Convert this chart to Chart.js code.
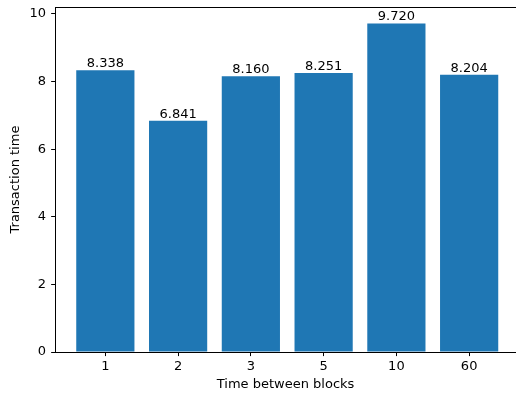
<!DOCTYPE html>
<html>
<head>
<meta charset="utf-8">
<script src="https://cdn.jsdelivr.net/npm/chart.js@4.4.0/dist/chart.umd.min.js"></script>
<style>
  html, body { margin: 0; padding: 0; background: #fff; overflow: hidden; }
  #wrap { position: relative; width: 516px; height: 394px; }
</style>
</head>
<body>
<div id="wrap"><canvas id="chart"></canvas></div>
<script>
// Chart data
const categories = ['1', '2', '3', '5', '10', '60'];
const txTimes = [8.338, 6.841, 8.160, 8.251, 9.720, 8.204];
const yTicks = [0, 2, 4, 6, 8, 10];

const FONT = "'DejaVu Sans', sans-serif";
Chart.defaults.font.family = FONT;
Chart.defaults.font.size = 13;
Chart.defaults.color = '#000';

// Draw value labels above each bar
const barLabels = {
    id: 'barLabels',
    afterDatasetsDraw(chart) {
        const ctx = chart.ctx;
        const meta = chart.getDatasetMeta(0);
        ctx.save();
        ctx.font = '13px ' + FONT;
        ctx.fillStyle = '#000';
        ctx.textAlign = 'center';
        ctx.textBaseline = 'alphabetic';
        meta.data.forEach((bar, i) => {
            ctx.fillText(txTimes[i].toFixed(3), bar.x, bar.y - 3);
        });
        ctx.restore();
    }
};

// Top spine (the right one falls outside the cropped figure)
const frame = {
    id: 'frame',
    afterDraw(chart) {
        const a = chart.chartArea;
        const ctx = chart.ctx;
        ctx.save();
        ctx.strokeStyle = '#000';
        ctx.lineWidth = 1;
        ctx.beginPath();
        ctx.moveTo(a.left, a.top + 0.5);
        ctx.lineTo(a.right, a.top + 0.5);
        ctx.stroke();
        ctx.restore();
    }
};

new Chart(document.getElementById('chart'), {
    type: 'bar',
    data: {
        datasets: [{
            data: txTimes.map((v, i) => ({ x: i, y: v })),
            backgroundColor: '#1f77b4',
            borderWidth: 0,
            barPercentage: 0.8,
            categoryPercentage: 1.0
        }]
    },
    options: {
        responsive: true,
        maintainAspectRatio: false,
        animation: false,
        layout: { padding: { top: 7, right: 0, left: 8, bottom: 0 } },
        plugins: { legend: { display: false }, tooltip: { enabled: false } },
        scales: {
            x: {
                type: 'linear',
                offset: false,
                min: -0.69,
                max: 5.644,
                afterBuildTicks: s => { s.ticks = categories.map((c, i) => ({ value: i })); },
                afterFit: s => { s.paddingLeft = 0; s.paddingRight = 0; },
                ticks: {
                    callback: (v) => categories[v],
                    padding: 3,
                    maxRotation: 0
                },
                grid: {
                    display: true,
                    offset: false,
                    drawOnChartArea: false,
                    drawTicks: true,
                    tickLength: 4,
                    color: '#000'
                },
                border: { display: true, color: '#000', width: 1 },
                title: { display: true, text: 'Time between blocks', font: { lineHeight: 1.1 }, padding: { top: 0, bottom: 2 } }
            },
            y: {
                min: 0,
                max: 10.206,
                afterBuildTicks: s => { s.ticks = yTicks.map(v => ({ value: v })); },
                afterFit: s => { s.paddingTop = 0; s.paddingBottom = 0; },
                ticks: { padding: 5 },
                grid: {
                    display: true,
                    drawOnChartArea: false,
                    drawTicks: true,
                    tickLength: 4,
                    color: '#000'
                },
                border: { display: true, color: '#000', width: 1 },
                title: { display: true, text: 'Transaction time', padding: { top: 0, bottom: 1 } }
            }
        }
    },
    plugins: [barLabels, frame]
});
</script>
</body>
</html>
